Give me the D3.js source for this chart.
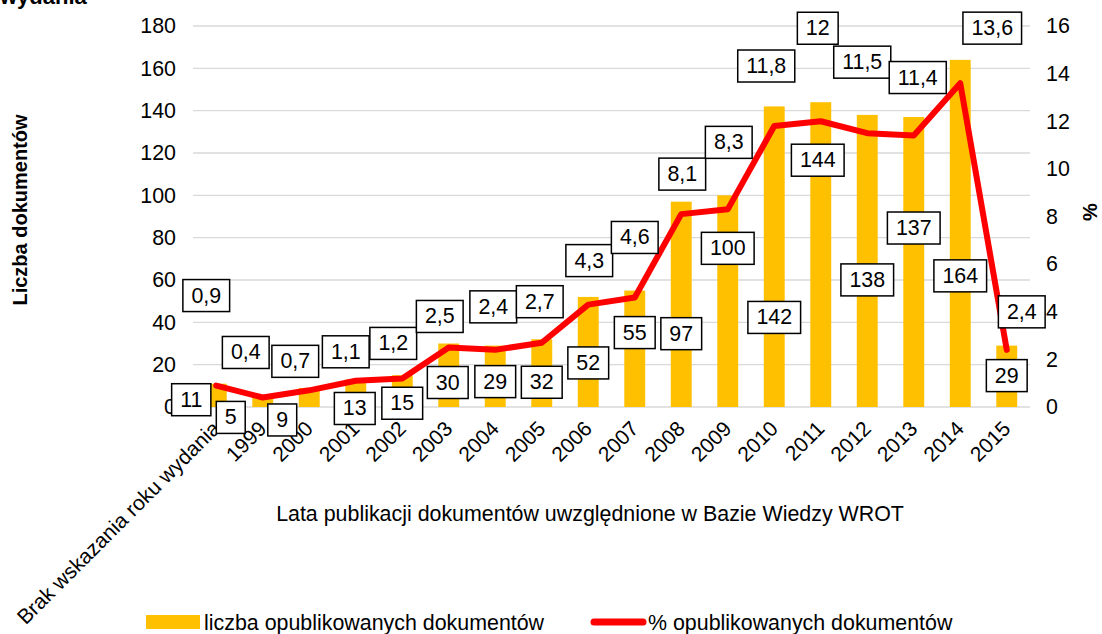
<!DOCTYPE html>
<html>
<head>
<meta charset="utf-8">
<script src="https://cdnjs.cloudflare.com/ajax/libs/d3/7.8.5/d3.min.js"></script>
<style>
  body { margin: 0; background: #fff; }
  text { font-family: Arial, "Liberation Sans", Helvetica, sans-serif; fill: #000; }
</style>
</head>
<body>
<svg width="1102" height="634"></svg>
<script>
// categories and values
var categories = ["Brak wskazania roku wydania", "1999", "2000", "2001", "2002", "2003", "2004", "2005",
    "2006", "2007", "2008", "2009", "2010", "2011", "2012", "2013", "2014", "2015"];
var docCounts = [11, 5, 9, 13, 15, 30, 29, 32, 52, 55, 97, 100, 142, 144, 138, 137, 164, 29];
var docPercents = [0.9, 0.4, 0.7, 1.1, 1.2, 2.5, 2.4, 2.7, 4.3, 4.6, 8.1, 8.3, 11.8, 12, 11.5, 11.4, 13.6, 2.4];
var leftTicks = [0, 20, 40, 60, 80, 100, 120, 140, 160, 180];
var rightTicks = [0, 2, 4, 6, 8, 10, 12, 14, 16];

// label box offsets (px) from the mark they belong to, as placed in the original
var countLabelOffset = [[-25, 16], [-32, 21], [-27, 32], [-1, 29], [0, 28], [-1, 39], [0, 36], [0, 43], [0, 66],
    [0, 42], [0, 132], [0, 53], [0, 211], [-3, 58], [0, 165], [0, 111], [0, 216], [0, 30]];
var pctLabelOffset = [[-10, -90], [-17, -45], [-14, -29], [-10, -29], [-9, -35], [-9, -31], [-2, -43], [-2, -41],
    [1, -44], [0, -60], [1, -40], [1, -67], [-8, -60], [-3, -93], [-5, -71], [4, -58], [32, -55], [15, -38]];

var svg = d3.select('svg');
var fontSize = 21.4;

var xScale = d3.scaleBand()
    .domain(categories)
    .range([193, 1030])
    .paddingInner(0.55)
    .paddingOuter(0.275);

var yLeft = d3.scaleLinear().domain([0, 180]).range([407, 26]);
var yRight = d3.scaleLinear().domain([0, 16]).range([407, 26]);

var cx = d => xScale(d) + xScale.bandwidth() / 2;

// gridlines
svg.append('g')
    .selectAll('line')
    .data(leftTicks)
    .join('line')
    .attr('x1', 193).attr('x2', 1030)
    .attr('y1', d => yLeft(d)).attr('y2', d => yLeft(d))
    .attr('stroke', '#d9d9d9')
    .attr('stroke-width', 1.3);

// left axis
var leftAxis = svg.append('g')
    .attr('transform', 'translate(176,0)')
    .call(d3.axisLeft(yLeft).tickValues(leftTicks).tickSize(0).tickPadding(0));
leftAxis.select('.domain').remove();
leftAxis.selectAll('text').attr('font-size', fontSize).attr('font-family', null);

// right axis
var rightAxis = svg.append('g')
    .attr('transform', 'translate(1046,0)')
    .call(d3.axisRight(yRight).tickValues(rightTicks).tickSize(0).tickPadding(0));
rightAxis.select('.domain').remove();
rightAxis.selectAll('text').attr('font-size', fontSize).attr('font-family', null);

// bars
svg.append('g')
    .selectAll('rect')
    .data(categories)
    .join('rect')
    .attr('x', d => xScale(d))
    .attr('width', xScale.bandwidth())
    .attr('y', (d, i) => yLeft(docCounts[i]))
    .attr('height', (d, i) => yLeft(0) - yLeft(docCounts[i]))
    .attr('fill', '#ffc000');

// percent line
var lineGenerator = d3.line()
    .x((d, i) => cx(categories[i]))
    .y(d => yRight(d));

svg.append('path')
    .attr('d', lineGenerator(docPercents))
    .attr('fill', 'none')
    .attr('stroke', '#ff0000')
    .attr('stroke-width', 6)
    .attr('stroke-linejoin', 'round')
    .attr('stroke-linecap', 'round');

// x tick labels, rotated
svg.append('g')
    .selectAll('text')
    .data(categories)
    .join('text')
    .attr('transform', d => `translate(${cx(d) + 5},${430}) rotate(-45)`)
    .attr('text-anchor', 'end')
    .attr('font-size', 21)
    .text(d => d);

// boxed data labels
function boxedLabel(g, x, y, txt) {
    var t = g.append('text')
        .attr('x', x).attr('y', y)
        .attr('text-anchor', 'middle')
        .attr('dominant-baseline', 'central')
        .attr('font-size', fontSize)
        .text(txt);
    var w = t.node().getComputedTextLength() + 17;
    g.insert('rect', 'text')
        .attr('x', x - w / 2).attr('y', y - 16)
        .attr('width', w).attr('height', 32)
        .attr('fill', '#fff')
        .attr('stroke', '#000')
        .attr('stroke-width', 1.5);
}

var comma = v => String(v).replace('.', ',');

categories.forEach(function (c, i) {
    var g = svg.append('g');
    boxedLabel(g, cx(c) + countLabelOffset[i][0], yLeft(docCounts[i]) + countLabelOffset[i][1], docCounts[i]);
});
categories.forEach(function (c, i) {
    var g = svg.append('g');
    boxedLabel(g, cx(c) + pctLabelOffset[i][0], yRight(docPercents[i]) + pctLabelOffset[i][1], comma(docPercents[i]));
});

// titles
svg.append('text')
    .attr('x', 0).attr('y', 4)
    .attr('font-size', 22)
    .attr('font-weight', 'bold')
    .text('wydania');

svg.append('text')
    .attr('transform', 'translate(27,210) rotate(-90)')
    .attr('text-anchor', 'middle')
    .attr('font-size', 20)
    .attr('font-weight', 'bold')
    .text('Liczba dokumentów');

svg.append('text')
    .attr('transform', 'translate(1097,212) rotate(-90)')
    .attr('text-anchor', 'middle')
    .attr('font-size', 20)
    .attr('font-weight', 'bold')
    .text('%');

svg.append('text')
    .attr('x', 590).attr('y', 521)
    .attr('text-anchor', 'middle')
    .attr('font-size', fontSize)
    .text('Lata publikacji dokumentów uwzględnione w Bazie Wiedzy WROT');

// legend
var legend = svg.append('g');
legend.append('rect')
    .attr('x', 146).attr('y', 615)
    .attr('width', 54).attr('height', 14)
    .attr('fill', '#ffc000');
legend.append('text')
    .attr('x', 204).attr('y', 630)
    .attr('font-size', fontSize)
    .text('liczba opublikowanych dokumentów');
legend.append('line')
    .attr('x1', 594).attr('x2', 643)
    .attr('y1', 622).attr('y2', 622)
    .attr('stroke', '#ff0000')
    .attr('stroke-width', 7)
    .attr('stroke-linecap', 'round');
legend.append('text')
    .attr('x', 648).attr('y', 630)
    .attr('font-size', fontSize)
    .text('% opublikowanych dokumentów');
</script>
</body>
</html>
